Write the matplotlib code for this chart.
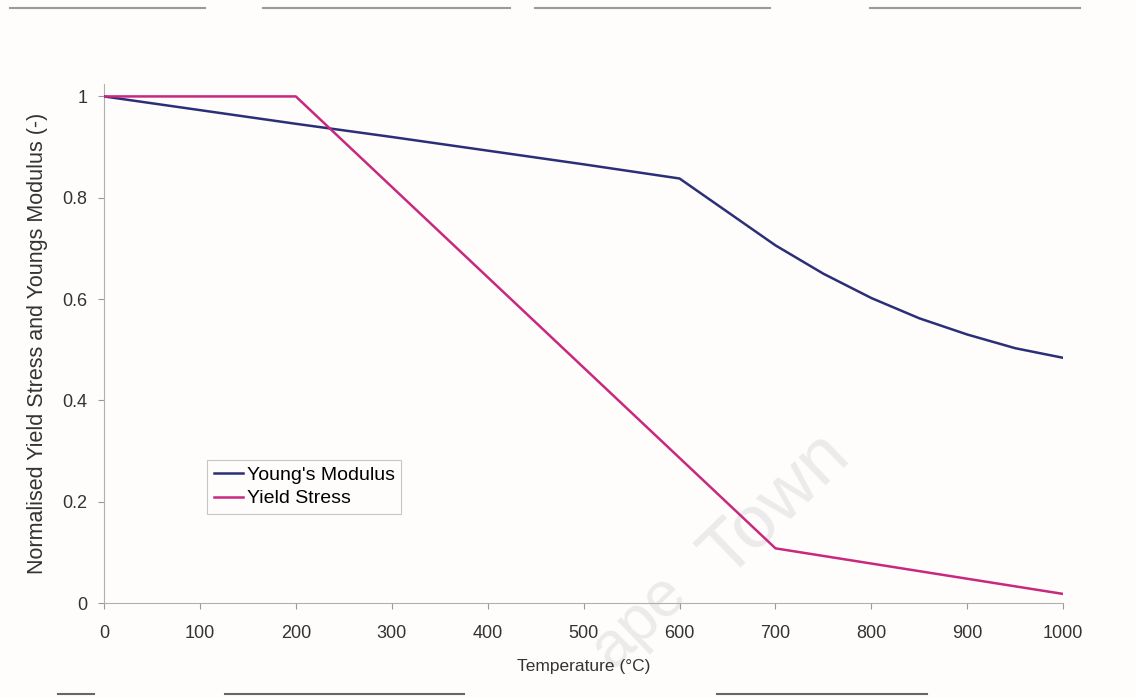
import matplotlib.pyplot as plt
from matplotlib.lines import Line2D

# data
temp_E = [0, 100, 200, 300, 400, 500, 600, 650, 700, 750, 800, 850, 900, 950, 1000]
youngs = [1.0, 0.973, 0.946, 0.920, 0.893, 0.866, 0.838, 0.772, 0.706, 0.650, 0.602, 0.562, 0.530, 0.503, 0.484]

temp_fy = [0, 100, 200, 700, 1000]
yield_stress = [1.0, 1.0, 1.0, 0.108, 0.018]

x_ticks = [0, 100, 200, 300, 400, 500, 600, 700, 800, 900, 1000]
y_ticks = [0, 0.2, 0.4, 0.6, 0.8, 1.0]
y_ticklabels = ['0', '0.2', '0.4', '0.6', '0.8', '1']

plt.rcParams['font.family'] = ['Liberation Sans', 'DejaVu Sans']

fig = plt.figure(figsize=(11.36, 6.98), dpi=100, facecolor='#fffdfb')
ax = fig.add_axes([0.0915, 0.136, 0.8445, 0.744])
ax.set_facecolor('#fffdfb')

ax.plot(temp_E, youngs, color='#2b2f78', linewidth=1.8, label="Young's Modulus", zorder=3)
ax.plot(temp_fy, yield_stress, color='#c8287e', linewidth=1.8, label='Yield Stress', zorder=3)

ax.set_xlim(0, 1000)
ax.set_ylim(0, 1.025)
ax.set_xticks(x_ticks)
ax.set_yticks(y_ticks)
ax.set_yticklabels(y_ticklabels)
ax.tick_params(labelsize=13, colors='#999999', labelcolor='#333333', length=4, width=0.8)
ax.tick_params(axis='x', pad=12)
ax.tick_params(axis='y', pad=8)

for side in ['top', 'right']:
    ax.spines[side].set_visible(False)
ax.spines['left'].set_color('#b0b0b0')
ax.spines['bottom'].set_color('#b0b0b0')

ax.set_xlabel('Temperature (°C)', fontsize=12.5, color='#333333', labelpad=12)
ax.set_ylabel('Normalised Yield Stress and Youngs Modulus (-)', fontsize=15.5, color='#333333', labelpad=10)

leg = ax.legend(loc='upper left', bbox_to_anchor=(0.097, 0.295), fontsize=14,
                frameon=True, fancybox=False, borderpad=0.35, handlelength=1.5,
                handletextpad=0.2, labelspacing=0.3)
leg.get_frame().set_edgecolor('#b8b8b8')
leg.get_frame().set_linewidth(0.8)
leg.get_frame().set_facecolor('#fffdfb')

# faint watermark from the scan (only the visible parts)
ax.text(0.648, 0.045, 'Town', transform=ax.transAxes, fontsize=54, color='#ebebeb',
        rotation=44, ha='left', va='baseline', rotation_mode='anchor', zorder=1, clip_on=False)
ax.text(0.53, -0.13, 'ape', transform=ax.transAxes, fontsize=46, color='#ebebeb',
        rotation=44, ha='left', va='baseline', rotation_mode='anchor', zorder=1, clip_on=False)

# scan artefacts along the top and bottom edges
top_segments = [(10, 205), (263, 510), (535, 770), (870, 1080)]
for x0, x1 in top_segments:
    fig.add_artist(Line2D([x0 / 1136, x1 / 1136], [1 - 8 / 698] * 2, color='#9a9a9a', linewidth=1.5))
bottom_segments = [(58, 94), (225, 464), (717, 927)]
for x0, x1 in bottom_segments:
    fig.add_artist(Line2D([x0 / 1136, x1 / 1136], [1 - 694 / 698] * 2, color='#666666', linewidth=1.5))

fig.savefig('out.png', dpi=100, facecolor=fig.get_facecolor())
